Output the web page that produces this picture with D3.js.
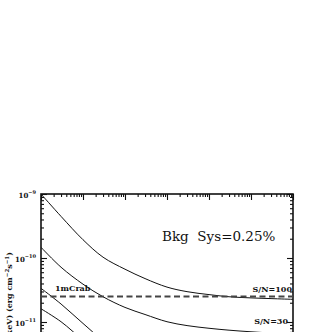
<!DOCTYPE html>
<html>
<head>
<meta charset="utf-8">
<script src="https://cdn.jsdelivr.net/npm/d3@7"></script>
<style>
  html, body { margin: 0; padding: 0; background: #fff; overflow: hidden; }
  svg { display: block; }
</style>
</head>
<body>
<svg id="chart" width="332" height="332"></svg>
<script>
// ---- data ----
const times = [1, 3, 10, 30, 100, 300, 1e3, 3e3, 1e4, 3e4, 1e5, 3e5, 1e6];
const snr100 = [1.00e-9, 4.47e-10, 1.93e-10, 1.03e-10, 6.68e-11, 4.77e-11, 3.51e-11, 2.98e-11, 2.68e-11, 2.48e-11, 2.38e-11, 2.32e-11, 2.26e-11];
const snr30  = [1.47e-10, 7.18e-11, 3.90e-11, 2.48e-11, 1.69e-11, 1.31e-11, 1.01e-11, 8.79e-12, 7.98e-12, 7.45e-12, 7.03e-12, 6.73e-12, 6.49e-12];
const snr10  = [3.36e-11, 1.91e-11, 9.5e-12, 5.2e-12, 3.3e-12, 2.4e-12, 1.8e-12, 1.5e-12, 1.3e-12, 1.2e-12, 1.15e-12, 1.1e-12, 1.08e-12];
const snr5   = [1.61e-11, 1.01e-11, 5.2e-12, 3.0e-12, 1.9e-12, 1.35e-12, 1.0e-12, 8.4e-13, 7.4e-13, 6.8e-13, 6.5e-13, 6.3e-13, 6.2e-13];
const crabLevel = 2.5e-11;
const xDomain = [1, 1e6];
const yDomain = [1e-13, 1e-9];
const yTickExps = [-9, -10, -11];
const curveLabels = ["S/N=100", "S/N=30"];
const crabLabel = "1mCrab";
const sysLabel = "Bkg  Sys=0.25%";

// ---- layout ----
const L = 41, T = 194, R = 293, B = 450;
const svg = d3.select("#chart");
const x = d3.scaleLog().domain(xDomain).range([L, R]);
const y = d3.scaleLog().domain(yDomain).range([B, T]);

function logTicks(scale) {
  const d = scale.domain();
  const lo = Math.round(Math.log10(d[0])), hi = Math.round(Math.log10(d[1]));
  const major = [], minor = [];
  for (let e = lo; e <= hi; e++) {
    major.push(Math.pow(10, e));
    if (e < hi) for (let m = 2; m <= 9; m++) minor.push(m * Math.pow(10, e));
  }
  return { major, minor };
}
const xt = logTicks(x), yt = logTicks(y);

const axesG = svg.append("g");
function addAxis(gen, transform, vals, size) {
  const g = axesG.append("g").attr("transform", transform)
    .call(gen.tickValues(vals).tickSize(size).tickFormat(""));
  g.select(".domain").remove();
  g.selectAll(".tick line").attr("stroke", "#111").attr("stroke-width", 1.1);
}
// top (inward = down), bottom (inward = up)
addAxis(d3.axisTop(x), `translate(0,${T})`, xt.minor, -3);
addAxis(d3.axisTop(x), `translate(0,${T})`, xt.major, -6);
addAxis(d3.axisBottom(x), `translate(0,${B})`, xt.minor, -3);
addAxis(d3.axisBottom(x), `translate(0,${B})`, xt.major, -6);
// left (inward = right), right (inward = left)
addAxis(d3.axisLeft(y), `translate(${L},0)`, yt.minor, -3);
addAxis(d3.axisLeft(y), `translate(${L},0)`, yt.major, -6);
addAxis(d3.axisRight(y), `translate(${R},0)`, yt.minor, -3);
addAxis(d3.axisRight(y), `translate(${R},0)`, yt.major, -6);

// frame
svg.append("rect").attr("x", L).attr("y", T).attr("width", R - L).attr("height", B - T)
  .attr("fill", "none").attr("stroke", "#111").attr("stroke-width", 1.6);

// y tick labels
const ylab = svg.append("g").attr("font-family", "DejaVu Serif").attr("font-weight", "bold")
  .attr("fill", "#111");
yTickExps.forEach(e => {
  const t = ylab.append("text").attr("x", 36).attr("y", y(Math.pow(10, e)) + 3.5)
    .attr("text-anchor", "end").attr("font-size", 7);
  t.append("tspan").text("10");
  t.append("tspan").attr("font-size", 5).attr("dy", -3.5).text("\u2212" + Math.abs(e));
});

// y axis title (rotated)
const yt2 = svg.append("text").attr("transform", "translate(12,252) rotate(-90)")
  .attr("text-anchor", "end").attr("font-family", "DejaVu Serif").attr("font-weight", "bold")
  .attr("font-size", 8).attr("fill", "#111");
yt2.append("tspan").text("Flux (2-10 keV) (erg cm");
yt2.append("tspan").attr("font-size", 5.5).attr("dy", -3.5).text("\u22122");
yt2.append("tspan").attr("dy", 3.5).text("s");
yt2.append("tspan").attr("font-size", 5.5).attr("dy", -3.5).text("\u22121");
yt2.append("tspan").attr("dy", 3.5).text(")");

// clip for data
svg.append("clipPath").attr("id", "plotclip").append("rect")
  .attr("x", L).attr("y", T).attr("width", R - L).attr("height", B - T);
const plot = svg.append("g").attr("clip-path", "url(#plotclip)");

const line = d3.line().x(d => x(d[0])).y(d => y(d[1])).curve(d3.curveCatmullRom.alpha(0.5));
[snr100, snr30, snr10, snr5].forEach(s => {
  plot.append("path").datum(times.map((t, i) => [t, s[i]]))
    .attr("d", line).attr("fill", "none").attr("stroke", "#111").attr("stroke-width", 1);
});

// 1 mCrab dashed level
plot.append("line").attr("x1", x(xDomain[0])).attr("x2", x(xDomain[1]))
  .attr("y1", y(crabLevel)).attr("y2", y(crabLevel))
  .attr("stroke", "#444").attr("stroke-width", 2).attr("stroke-dasharray", "6,3.5");

// annotations
const ann = svg.append("g").attr("font-family", "DejaVu Serif").attr("fill", "#111");
ann.append("text").attr("x", 55).attr("y", y(crabLevel) - 5.5).attr("font-weight", "bold")
  .attr("font-size", 8).text(crabLabel);
ann.append("text").attr("x", R - 1).attr("y", y(snr100[snr100.length - 1]) - 7.5)
  .attr("text-anchor", "end").attr("font-weight", "bold").attr("font-size", 8).text(curveLabels[0]);
ann.append("text").attr("x", R - 5).attr("y", y(snr30[snr30.length - 1]) - 10)
  .attr("text-anchor", "end").attr("font-weight", "bold").attr("font-size", 8).text(curveLabels[1]);
ann.append("text").attr("x", 162).attr("y", 241).attr("font-size", 13.5)
  .attr("xml:space", "preserve").style("white-space", "pre").text(sysLabel);
</script>
</body>
</html>
